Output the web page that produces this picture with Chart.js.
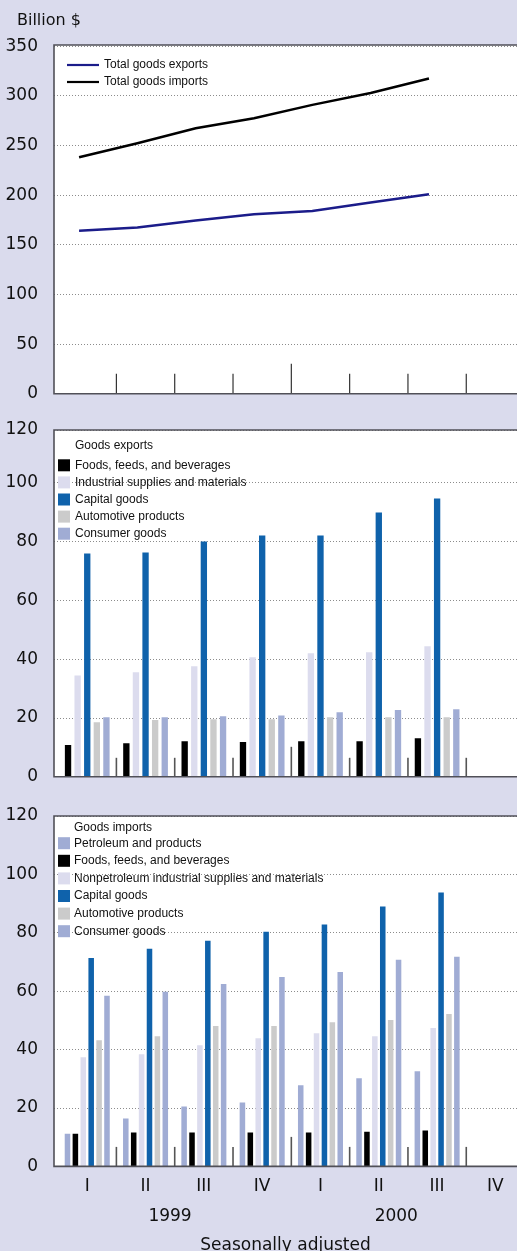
<!DOCTYPE html>
<html>
<head>
<meta charset="utf-8">
<script src="https://cdn.jsdelivr.net/npm/chart.js"></script>
<style>
  html, body { margin: 0; padding: 0; background: #dadbed; overflow: hidden; width: 517px; height: 1251px; }
  canvas { position: absolute; left: 0; }
  #unit { position: absolute; left: 17px; top: 10px; font: 16px "DejaVu Sans", sans-serif; color: #111; }
</style>
</head>
<body>
<canvas id="lineChart" width="517" height="404" style="top:0"></canvas>
<div id="unit">Billion $</div>
<canvas id="exportChart" width="517" height="385" style="top:402px"></canvas>
<canvas id="importChart" width="517" height="470" style="top:795px"></canvas>
<script>
// ===== Data (billion $, seasonally adjusted, 1999 Q1 – 2000 Q3)
const quarters = ['I', 'II', 'III', 'IV', 'I', 'II', 'III', 'IV'];
const years = ['1999', '2000'];

const totalExports = [164.1, 167.4, 174.5, 180.9, 184.2, 192.6, 201.0];
const totalImports = [238.3, 252.4, 267.5, 277.6, 291.0, 303.0, 317.5];

const expFoods      = [10.8, 11.4, 12.1, 11.8, 12.1, 12.1, 13.1];
const expIndustrial = [34.5, 35.6, 37.6, 40.7, 42.0, 42.4, 44.4];
const expCapital    = [76.0, 76.3, 80.1, 82.1, 82.1, 89.9, 94.7];
const expAuto       = [18.6, 19.3, 19.6, 19.6, 20.3, 20.3, 20.3];
const expConsumer   = [20.3, 20.3, 20.6, 20.9, 22.0, 22.7, 23.0];

const impPetroleum  = [11.2, 16.4, 20.5, 21.9, 27.8, 30.2, 32.6];
const impFoods      = [11.2, 11.6, 11.6, 11.6, 11.6, 11.9, 12.3];
const impIndustrial = [37.4, 38.4, 41.5, 43.9, 45.6, 44.6, 47.4];
const impCapital    = [71.4, 74.5, 77.3, 80.4, 82.8, 89.0, 93.8];
const impAuto       = [43.2, 44.6, 48.1, 48.1, 49.4, 50.1, 52.2];
const impConsumer   = [58.4, 59.8, 62.5, 64.9, 66.6, 70.8, 71.8];

const yTicksTotal = [0, 50, 100, 150, 200, 250, 300, 350];
const yTicksParts = [0, 20, 40, 60, 80, 100, 120];

// ===== Styles
const tickFont = '"DejaVu Sans", sans-serif';
const keyFont = '"Liberation Sans", Arial, sans-serif';
const col = {
  black: '#000000', light: '#dcdcee', blue: '#0f62ab',
  gray: '#cbcbcb', soft: '#a0acd4', navy: '#1b1c8a', text: '#111111'
};

// quarter index -> x value (bars in middle of the quarter, line points a bit left)
const barPts  = arr => arr.map((v, i) => ({ x: i + 0.5, y: v }));
const linePts = arr => arr.map((v, i) => ({ x: i + 0.36, y: v }));

// ===== Plugins
// white plot area, frame and small separator ticks between quarters
const frame = {
  id: 'frame',
  beforeDraw(chart) {
    const { ctx, chartArea: a } = chart;
    ctx.save();
    ctx.fillStyle = '#ffffff';
    ctx.fillRect(a.left, a.top, a.right - a.left + 10, a.bottom - a.top);
    ctx.restore();
  },
  afterDatasetsDraw(chart, args, o) {
    const { ctx, chartArea: a, scales } = chart;
    ctx.save();
    ctx.strokeStyle = o.tickColor;
    ctx.lineWidth = o.tickWidth;
    for (let k = 1; k < quarters.length; k++) {
      const px = scales.x.getPixelForValue(k);
      const h = k % 4 === 0 ? o.tall : o.short;
      ctx.beginPath();
      ctx.moveTo(px, a.bottom);
      ctx.lineTo(px, a.bottom - h);
      ctx.stroke();
    }
    ctx.strokeStyle = '#505058';
    ctx.lineWidth = 1.6;
    ctx.beginPath();
    ctx.moveTo(a.right + 5, a.top);
    ctx.lineTo(a.left, a.top);
    ctx.lineTo(a.left, a.bottom);
    ctx.lineTo(a.right + 5, a.bottom);
    ctx.stroke();
    ctx.restore();
  }
};

// key drawn inside the plot, top-left
const keyBox = {
  id: 'keyBox',
  afterDraw(chart, args, o) {
    const { ctx, chartArea: a } = chart;
    ctx.save();
    ctx.font = '12px ' + keyFont;
    ctx.textBaseline = 'middle';
    ctx.fillStyle = col.text;
    if (o.title) ctx.fillText(o.title, a.left + o.textX, a.top + o.titleY);
    chart.data.datasets.forEach((ds, i) => {
      const y = a.top + o.firstY + i * o.step;
      if (o.kind === 'line') {
        ctx.strokeStyle = ds.borderColor;
        ctx.lineWidth = 2.2;
        ctx.beginPath();
        ctx.moveTo(a.left + o.markX, y);
        ctx.lineTo(a.left + o.markX + 32, y);
        ctx.stroke();
      } else {
        ctx.fillStyle = ds.backgroundColor;
        ctx.fillRect(a.left + o.markX, y - 6, 12, 12);
      }
      ctx.fillStyle = col.text;
      ctx.fillText(ds.label, a.left + o.textX, y);
    });
    ctx.restore();
  }
};

// ===== Scale helpers
const xRange = { min: -0.07, max: 7.87, offset: false };

function quarterAxis(show) {
  return {
    type: 'linear', position: 'bottom', display: show, ...xRange,
    afterBuildTicks: s => { s.ticks = quarters.map((q, i) => ({ value: i + 0.5 })); },
    ticks: {
      callback: (v, i) => quarters[i],
      font: { family: tickFont, size: 17 }, color: col.text,
      padding: 10, maxRotation: 0, autoSkip: false
    },
    grid: { display: false, drawTicks: false, offset: false },
    border: { display: false }
  };
}

function valueAxis(max, tickList) {
  return {
    type: 'linear', position: 'left', min: 0, max: max,
    afterFit: s => { s.width = 54; },
    afterBuildTicks: s => { s.ticks = tickList.map(v => ({ value: Math.min(v, max) })); },
    ticks: {
      callback: (v, i) => String(tickList[i]),
      font: { family: tickFont, size: 17 }, color: col.text, padding: 0
    },
    grid: { color: '#8c8c8c', lineWidth: 1, drawTicks: true, tickLength: 16, tickColor: 'rgba(0,0,0,0)' },
    border: { display: false, dash: [1, 2] }
  };
}

const common = {
  responsive: false,
  animation: false,
  events: []
};

// ===== Panel 1: totals
new Chart(document.getElementById('lineChart'), {
  type: 'line',
  data: {
    datasets: [
      { label: 'Total goods exports', data: linePts(totalExports), borderColor: col.navy, borderWidth: 2.5, pointRadius: 0, tension: 0 },
      { label: 'Total goods imports', data: linePts(totalImports), borderColor: col.black, borderWidth: 2.5, pointRadius: 0, tension: 0 }
    ]
  },
  options: {
    ...common,
    layout: { padding: { left: 0, top: 45, right: 0, bottom: 0 } },
    scales: { x: quarterAxis(false), y: valueAxis(351.3, yTicksTotal) },
    plugins: {
      legend: { display: false },
      tooltip: { enabled: false },
      frame: { tickColor: '#333333', tickWidth: 1.2, short: 20, tall: 30 },
      keyBox: { kind: 'line', markX: 13, textX: 50, firstY: 20, step: 17 }
    }
  },
  plugins: [frame, keyBox]
});

// ===== Panel 2: exports by category
new Chart(document.getElementById('exportChart'), {
  type: 'bar',
  data: {
    datasets: [
      { label: 'Foods, feeds, and beverages', data: barPts(expFoods), backgroundColor: col.black },
      { label: 'Industrial supplies and materials', data: barPts(expIndustrial), backgroundColor: col.light },
      { label: 'Capital goods', data: barPts(expCapital), backgroundColor: col.blue },
      { label: 'Automotive products', data: barPts(expAuto), backgroundColor: col.gray },
      { label: 'Consumer goods', data: barPts(expConsumer), backgroundColor: col.soft }
    ]
  },
  options: {
    ...common,
    datasets: { bar: { categoryPercentage: 0.823, barPercentage: 0.66, borderWidth: 0 } },
    layout: { padding: { left: 0, top: 28, right: 0, bottom: 0 } },
    scales: { x: quarterAxis(false), y: valueAxis(118, yTicksParts) },
    plugins: {
      legend: { display: false },
      tooltip: { enabled: false },
      frame: { tickColor: '#555555', tickWidth: 1.6, short: 19, tall: 30 },
      keyBox: { kind: 'box', title: 'Goods exports', markX: 4, textX: 21, titleY: 16, firstY: 35.3, step: 17.1 }
    }
  },
  plugins: [frame, keyBox]
});

// ===== Panel 3: imports by category
new Chart(document.getElementById('importChart'), {
  type: 'bar',
  data: {
    datasets: [
      { label: 'Petroleum and products', data: barPts(impPetroleum), backgroundColor: col.soft },
      { label: 'Foods, feeds, and beverages', data: barPts(impFoods), backgroundColor: col.black },
      { label: 'Nonpetroleum industrial supplies and materials', data: barPts(impIndustrial), backgroundColor: col.light },
      { label: 'Capital goods', data: barPts(impCapital), backgroundColor: col.blue },
      { label: 'Automotive products', data: barPts(impAuto), backgroundColor: col.gray },
      { label: 'Consumer goods', data: barPts(impConsumer), backgroundColor: col.soft }
    ]
  },
  options: {
    ...common,
    datasets: { bar: { categoryPercentage: 0.813, barPercentage: 0.7, borderWidth: 0 } },
    layout: { padding: { left: 0, top: 21, right: 0, bottom: 0 } },
    scales: {
      x: quarterAxis(true),
      xYear: {
        type: 'linear', position: 'bottom', ...xRange,
        afterBuildTicks: s => { s.ticks = [{ value: 1.92 }, { value: 5.8 }]; },
        ticks: {
          callback: (v, i) => years[i],
          font: { family: tickFont, size: 17 }, color: col.text,
          padding: 0, maxRotation: 0, autoSkip: false
        },
        grid: { display: false, drawTicks: false, offset: false },
        border: { display: false },
        title: {
          display: true, text: 'Seasonally adjusted', color: col.text,
          font: { family: tickFont, size: 17 },
          padding: { top: 8.6, bottom: 8.8 }
        }
      },
      y: valueAxis(120, yTicksParts)
    },
    plugins: {
      legend: { display: false },
      tooltip: { enabled: false },
      frame: { tickColor: '#555555', tickWidth: 1.6, short: 19.5, tall: 29.5 },
      keyBox: { kind: 'box', title: 'Goods imports', markX: 4, textX: 20, titleY: 12, firstY: 27.2, step: 17.6 }
    }
  },
  plugins: [frame, keyBox]
});
</script>
</body>
</html>
